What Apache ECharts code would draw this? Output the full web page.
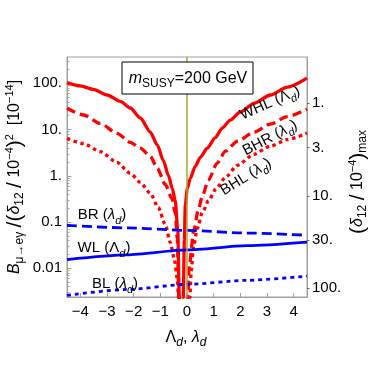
<!DOCTYPE html>
<html>
<head>
<meta charset="utf-8">
<script src="https://cdn.jsdelivr.net/npm/echarts@6/dist/echarts.min.js"></script>
<style>html,body{margin:0;padding:0;background:#fff;}#c{width:374px;height:374px;}</style>
</head>
<body>
<div id="c"></div>
<script>
// ---- data ----
const whlX = [-4.5, -4.0, -3.51, -2.99, -2.5, -2.125, -1.75, -1.375, -1.11, -0.89, -0.70, -0.55, -0.44, -0.345, -0.29, -0.21, -0.14, -0.10, -0.064, 0.011, 0.124, 0.31, 0.50, 0.76, 1.06, 1.32, 1.62, 2.0, 2.51, 3.13, 3.76, 4.5];
const whlY = [104, 88, 74, 56, 40.6, 29.3, 17.8, 8.8, 4.6, 2.17, 1.03, 0.53, 0.29, 0.065, 0.0023, 0.0003, 0.0023, 0.040, 0.23, 0.53, 0.88, 1.61, 2.52, 3.96, 6.7, 10.8, 16.1, 24, 37, 56, 83, 130];
const bhrX = [-4.5, -3.875, -3.25, -2.625, -2.126, -1.75, -1.376, -1.114, -0.814, -0.562, -0.439, -0.364, -0.307, -0.14, 0.03, 0.086, 0.25, 0.42, 0.57, 0.80, 1.125, 1.44, 1.89, 2.51, 3.13, 3.76, 4.5];
const bhrY = [28.9, 20.7, 13.6, 8.3, 5.3, 3.96, 2.65, 1.46, 0.65, 0.32, 0.153, 0.044, 0.0025, 0.0003, 0.0023, 0.0113, 0.065, 0.178, 0.358, 0.80, 1.87, 3.41, 5.6, 8.8, 13.2, 19, 27.9];
const bhlX = [-4.5, -3.875, -3.25, -2.625, -2.126, -1.75, -1.376, -1.076, -0.814, -0.626, -0.476, -0.364, -0.315, -0.1, 0.105, 0.16, 0.236, 0.386, 0.574, 0.81, 1.10, 1.44, 1.89, 2.51, 3.12, 3.76, 4.5];
const bhlY = [6.4, 4.97, 3.33, 1.96, 1.13, 0.72, 0.417, 0.207, 0.088, 0.0358, 0.0161, 0.0059, 0.0023, 0.0003, 0.0023, 0.0088, 0.0279, 0.0723, 0.161, 0.293, 0.535, 0.927, 1.69, 2.93, 4.38, 6.07, 8.4];
const blueX = [-4.5, -2.25, 0, 2.25, 4.5];
const brY = [0.085, 0.075, 0.066, 0.058, 0.052];
const wlY = [0.0155, 0.0196, 0.025, 0.031, 0.037];
const blY = [0.0026, 0.0035, 0.0045, 0.0055, 0.0068];
const zeroLine = [0];

const xTicks = [-4, -3, -2, -1, 0, 1, 2, 3, 4];
const leftTickValues = [0.01, 0.1, 1, 10, 100];
const leftTickLabels = ['0.01', '0.1', '1.', '10.', '100.'];
const rightTickValues = [1, 3, 10, 30, 100];
const rightTickLabels = ['1.', '3.', '10.', '30.', '100.'];
const bLimit = 37;          // B at which (delta12/1e-4)_max = 1
const xMin = -4.5, xMax = 4.5;
const yMin = 0.0024, yMax = 371.5;

// ---- derived axis helpers ----
const lg = Math.log10;
const minorLogs = [];
for (let n = -3; n <= 2; n++) for (let k = 2; k <= 9; k++) {
  const v = lg(k) + n;
  if (v > lg(yMin) && v < lg(yMax)) minorLogs.push(v);
}
const rTop = lg(Math.sqrt(bLimit / yMax));
const rBottom = lg(Math.sqrt(bLimit / yMin));
const rightLogs = rightTickValues.map(lg);

const F = 'Liberation Sans, Arial, sans-serif';
const GREY = '#a0a0a0';
function rs(size, italic, va, lh) {
  return { fontSize: size, fontFamily: F, fontStyle: italic ? 'italic' : 'normal', fill: '#000',
           verticalAlign: va || 'middle', lineHeight: lh || 22 };
}
const rich = {
  n: rs(15, false),
  i: rs(15, true),
  b: rs(19, false),
  sb: rs(11, false, 'bottom', 13),
  sbi: rs(11, true, 'bottom', 13),
  sp: rs(11, false, 'top', 12)
};
const richBig = {
  n: rs(16, false), i: rs(16, true), b: rs(21, false),
  sb: rs(12, false, 'bottom', 14), sbi: rs(12, true, 'bottom', 14), sp: rs(11, false, 'top', 12)
};

function lineSeries(name, xs, ys, color, width, dash, z) {
  return {
    type: 'line', name: name, xAxisIndex: 0, yAxisIndex: 0,
    data: xs.map((x, i) => [x, ys[i]]),
    symbol: 'none', showSymbol: false, smooth: 0.25, smoothMonotone: 'x', clip: true,
    lineStyle: { color: color, width: width, type: dash, cap: 'butt' },
    z: z, silent: true
  };
}

const chart = echarts.init(document.getElementById('c'), null, { renderer: 'canvas' });
const series = [
  lineSeries('WHL', whlX, whlY, '#ff0000', 3.3, 'solid', 2),
  lineSeries('BHR', bhrX, bhrY, '#ff0000', 3.3, [9, 5], 2),
  lineSeries('BHL', bhlX, bhlY, '#ff0000', 3.3, [3.5, 3.5], 2),
  lineSeries('BR', blueX, brY, '#0000ff', 2.8, [10, 5], 3),
  lineSeries('WL', blueX, wlY, '#0000ff', 2.8, 'solid', 3),
  lineSeries('BL', blueX, blY, '#0000ff', 2.8, [4, 4], 3),
  {
    type: 'line', xAxisIndex: 0, yAxisIndex: 0, data: [], z: 4, silent: true,
    markLine: {
      silent: true, symbol: 'none', animation: false, label: { show: false },
      lineStyle: { color: '#aaa336', width: 1.5, type: 'solid' },
      data: zeroLine.map(v => ({ xAxis: v }))
    }
  }
];

const graphic = [
  { type: 'rect', z: 50, shape: { x: 122, y: 62, width: 131, height: 32 },
    style: { fill: '#fff', stroke: '#000', lineWidth: 1 } },
  { type: 'text', z: 51, x: 188, y: 78.5,
    style: { text: '{i|m}{sb|SUSY}{n|=200 GeV}', align: 'center', verticalAlign: 'middle', rich: richBig } },
  { type: 'text', z: 51, x: 270, y: 103, rotation: 24 * Math.PI / 180,
    style: { text: '{n|WHL (Λ}{sbi|d}{n|)}', align: 'center', verticalAlign: 'middle', rich: rich } },
  { type: 'text', z: 51, x: 270, y: 138, rotation: 28 * Math.PI / 180,
    style: { text: '{n|BHR (}{i|λ}{sbi|d}{n|)}', align: 'center', verticalAlign: 'middle', rich: rich } },
  { type: 'text', z: 51, x: 246, y: 177, rotation: 32 * Math.PI / 180,
    style: { text: '{n|BHL (}{i|λ}{sbi|d}{n|)}', align: 'center', verticalAlign: 'middle', rich: rich } },
  { type: 'text', z: 51, x: 102, y: 215,
    style: { text: '{n|BR (}{i|λ}{sbi|d}{n|)}', align: 'center', verticalAlign: 'middle', rich: rich } },
  { type: 'text', z: 51, x: 104, y: 248,
    style: { text: '{n|WL (Λ}{sbi|d}{n|)}', align: 'center', verticalAlign: 'middle', rich: rich } },
  { type: 'text', z: 51, x: 115, y: 284,
    style: { text: '{n|BL (}{i|λ}{sbi|d}{n|)}', align: 'center', verticalAlign: 'middle', rich: rich } },
  { type: 'text', z: 51, x: 186, y: 338,
    style: { text: '{n|Λ}{sbi|d}{n|, }{i|λ}{sbi|d}', align: 'center', verticalAlign: 'middle', rich: richBig } },
  { type: 'text', z: 51, x: 15, y: 177, rotation: Math.PI / 2,
    style: { text: '{i|B}{sb|μ→eγ}{n| }{b|/}{b|(}{i|δ}{sb|12}{n| }{b|/}{n| 10}{sp|−4}{b|)}{sp|2}{n|  [10}{sp|−14}{n|]}',
             align: 'center', verticalAlign: 'middle', rich: richBig } },
  { type: 'text', z: 51, x: 358, y: 182, rotation: Math.PI / 2,
    style: { text: '{b|(}{i|δ}{sb|12}{n| }{b|/}{n| 10}{sp|−4}{b|)}{sb|max}',
             align: 'center', verticalAlign: 'middle', rich: richBig } }
];

const option = {
  animation: false,
  backgroundColor: '#fff',
  grid: { left: 67, right: 67, top: 57, bottom: 77, show: true, borderColor: GREY, borderWidth: 1, containLabel: false },
  xAxis: [{
    type: 'value', min: xMin, max: xMax, position: 'bottom',
    axisLine: { show: true, onZero: false, lineStyle: { color: GREY, width: 1 } },
    axisTick: { show: true, inside: true, length: 4, customValues: xTicks, lineStyle: { color: GREY } },
    axisLabel: { show: true, customValues: xTicks, margin: 7, color: '#000', fontSize: 15, fontFamily: F,
                 formatter: v => String(v).replace('-', '−') },
    splitLine: { show: false }
  }],
  yAxis: [
    {
      type: 'log', logBase: 10, min: yMin, max: yMax, position: 'left',
      axisLine: { show: true, onZero: false, lineStyle: { color: GREY, width: 1 } },
      axisTick: { show: true, inside: true, length: 4.5, lineStyle: { color: GREY } },
      axisLabel: { show: true, margin: 5, color: '#000', fontSize: 15, fontFamily: F,
                   showMinLabel: false, showMaxLabel: false,
                   formatter: v => {
                     for (let i = 0; i < leftTickValues.length; i++)
                       if (Math.abs(lg(v) - lg(leftTickValues[i])) < 1e-6) return leftTickLabels[i];
                     return '';
                   } },
      splitLine: { show: false }, minorTick: { show: false }
    },
    {
      type: 'value', min: rTop, max: rBottom, inverse: true, position: 'right',
      axisLine: { show: true, onZero: false, lineStyle: { color: GREY, width: 1 } },
      axisTick: { show: true, inside: false, length: 2.5, customValues: rightLogs, lineStyle: { color: '#666' } },
      axisLabel: { show: true, customValues: rightLogs, margin: 5, color: '#000', fontSize: 15, fontFamily: F,
                   formatter: v => {
                     for (let i = 0; i < rightLogs.length; i++)
                       if (Math.abs(v - rightLogs[i]) < 1e-6) return rightTickLabels[i];
                     return '';
                   } },
      splitLine: { show: false }
    },
    {
      type: 'value', min: lg(yMin), max: lg(yMax), position: 'left',
      axisLine: { show: false, onZero: false },
      axisTick: { show: true, inside: true, length: 2.5, customValues: minorLogs, lineStyle: { color: GREY } },
      axisLabel: { show: false },
      splitLine: { show: false }
    }
  ],
  series: series,
  graphic: graphic
};
chart.setOption(option);
</script>
</body>
</html>
